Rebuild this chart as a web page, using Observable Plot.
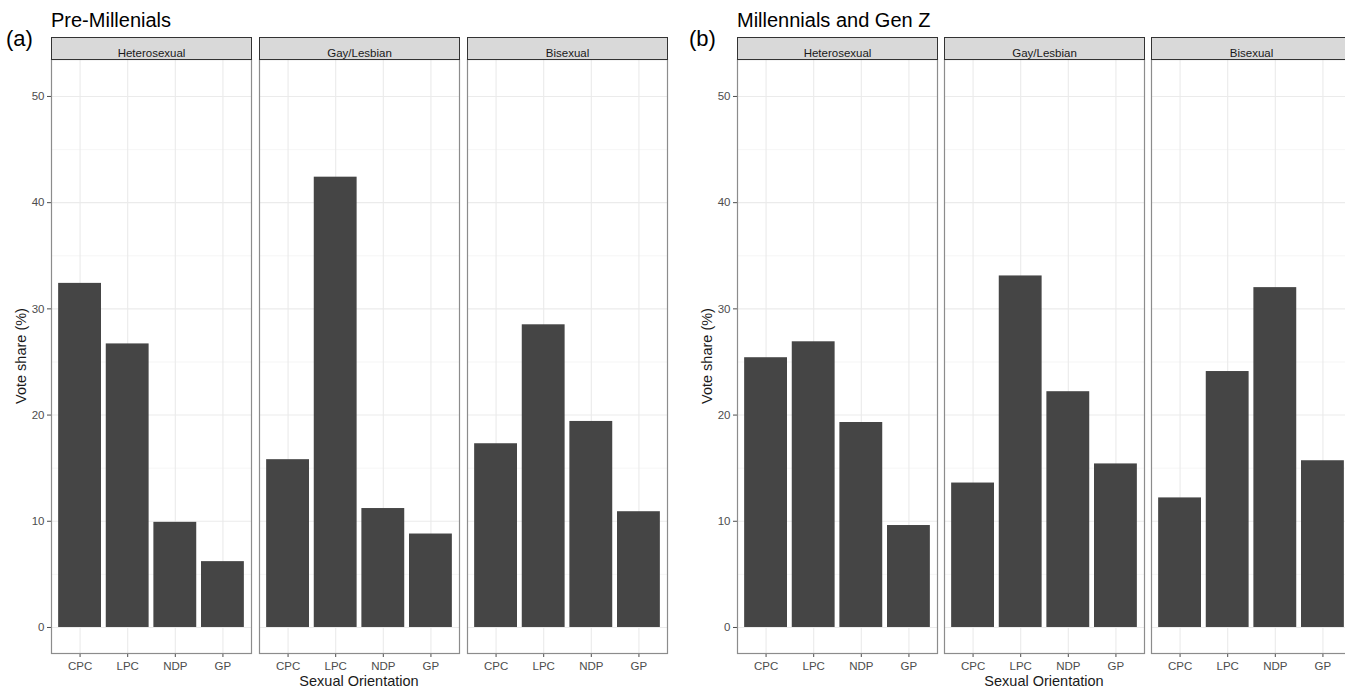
<!DOCTYPE html>
<html><head><meta charset="utf-8">
<script src="https://cdn.jsdelivr.net/npm/d3@7"></script>
<script src="https://cdn.jsdelivr.net/npm/@observablehq/plot@0.6"></script>
<style>
html,body{margin:0;padding:0;background:#fff;overflow:hidden;}
#wrap{position:relative;width:1345px;height:690px;overflow:hidden;font-family:"Liberation Sans",Arial,sans-serif;}
#wrap > div.plot{position:absolute;top:0;}
#wrap svg{max-width:none !important;}
#overlay{position:absolute;left:0;top:0;pointer-events:none;}
</style></head><body><div id="wrap"></div>
<script>
// ---- data ----
const parties = ["CPC", "LPC", "NDP", "GP"];
const orientations = ["Heterosexual", "Gay/Lesbian", "Bisexual"];
const yTicks = [0, 10, 20, 30, 40, 50];
const yMinor = [5, 15, 25, 35, 45];
// (a) Pre-Millenials
const preHetero = [32.4, 26.7, 9.9, 6.2];
const preGay = [15.8, 42.4, 11.2, 8.8];
const preBi = [17.3, 28.5, 19.4, 10.9];
// (b) Millennials and Gen Z
const genHetero = [25.4, 26.9, 19.3, 9.6];
const genGay = [13.6, 33.1, 22.2, 15.4];
const genBi = [12.2, 24.1, 32.0, 15.7];

const panelTitles = ["Pre-Millenials", "Millennials and Gen Z"];
const panelTags = ["(a)", "(b)"];
const xTitle = "Sexual Orientation";
const yTitle = "Vote share (%)";

function rows(series) {
  return orientations.flatMap((o, i) => parties.map((p, j) => ({orient: o, party: p, value: series[i][j]})));
}

const FONT = '"Liberation Sans", Arial, sans-serif';
const H = 690, MT = 59, MB = 37;

function chart(data, o) {
  const frameW = o.width - o.marginLeft - o.marginRight;
  const bw = (frameW - 2 * o.gap) / 3;
  const step = bw + o.gap;
  const frameH = H - MT - MB;
  return Plot.plot({
    width: o.width, height: H,
    marginLeft: o.marginLeft, marginRight: o.marginRight, marginTop: MT, marginBottom: MB,
    style: {fontFamily: FONT, fontSize: "11.5px", color: "#4d4d4d", background: "transparent", overflow: "visible", maxWidth: "none"},
    fx: {domain: orientations, paddingInner: o.gap / step, paddingOuter: 0, axis: null, label: null, round: false},
    x: {domain: parties, paddingInner: 0.1, paddingOuter: 0.15, tickSize: 4, tickPadding: 4, label: null, round: false},
    y: {domain: [-2.45, 53.48], ticks: yTicks, tickSize: 4, tickPadding: 3, label: null},
    marks: [
      Plot.frame({fill: "#fff"}),
      Plot.ruleY(yMinor, {stroke: "#f2f2f2", strokeWidth: 0.7}),
      Plot.ruleY(yTicks, {stroke: "#ebebeb", strokeWidth: 1.1}),
      Plot.ruleX(parties, {stroke: "#ebebeb", strokeWidth: 1.1}),
      Plot.barY(data, {fx: "orient", x: "party", y: "value", fill: "#454545"}),
      Plot.frame({stroke: "#8c8c8c", strokeWidth: 1.2}),
      Plot.frame({fill: "#d9d9d9", stroke: "#333", strokeWidth: 1, insetTop: -22, insetBottom: frameH}),
      Plot.text(orientations, {fx: d => d, text: d => d, frameAnchor: "top", dy: -11, fill: "#1a1a1a", fontSize: 11.5})
    ]
  });
}

const wrap = document.getElementById("wrap");
const specs = [
  {data: rows([preHetero, preGay, preBi]), left: 0, width: 680, marginLeft: 51, marginRight: 13, gap: 8},
  {data: rows([genHetero, genGay, genBi]), left: 680, width: 671, marginLeft: 57, marginRight: 0, gap: 7}
];
specs.forEach(s => {
  const d = document.createElement("div");
  d.className = "plot";
  d.style.left = s.left + "px";
  d.style.width = s.width + "px";
  d.style.height = H + "px";
  const svg = chart(s.data, s);
  svg.style.maxWidth = "none";
  svg.style.width = s.width + "px";
  svg.style.height = H + "px";
  d.appendChild(svg);
  wrap.appendChild(d);
});

// overlay with titles, tags, axis titles
const ns = "http://www.w3.org/2000/svg";
const ov = document.createElementNS(ns, "svg");
ov.setAttribute("id", "overlay");
ov.setAttribute("width", 1345);
ov.setAttribute("height", 690);
function txt(str, x, y, size, opts = {}) {
  const t = document.createElementNS(ns, "text");
  t.textContent = str;
  t.setAttribute("x", x);
  t.setAttribute("y", y);
  t.setAttribute("font-family", FONT);
  t.setAttribute("font-size", size);
  t.setAttribute("fill", opts.fill || "#000");
  if (opts.anchor) t.setAttribute("text-anchor", opts.anchor);
  if (opts.rotate) t.setAttribute("transform", `rotate(-90 ${x} ${y})`);
  ov.appendChild(t);
}
specs.forEach((s, i) => {
  const frameL = s.left + s.marginLeft;
  const frameR = s.left + s.width - s.marginRight;
  txt(panelTags[i], s.left + (i === 0 ? 6 : 9), 46, 22);
  txt(panelTitles[i], frameL, 27, 20);
  txt(xTitle, (frameL + frameR) / 2, 686, 14.5, {anchor: "middle", fill: "#1a1a1a"});
  txt(yTitle, frameL - 25, (MT + H - MB) / 2, 14.5, {anchor: "middle", rotate: true, fill: "#1a1a1a"});
});
wrap.appendChild(ov);
</script>
</body></html>
